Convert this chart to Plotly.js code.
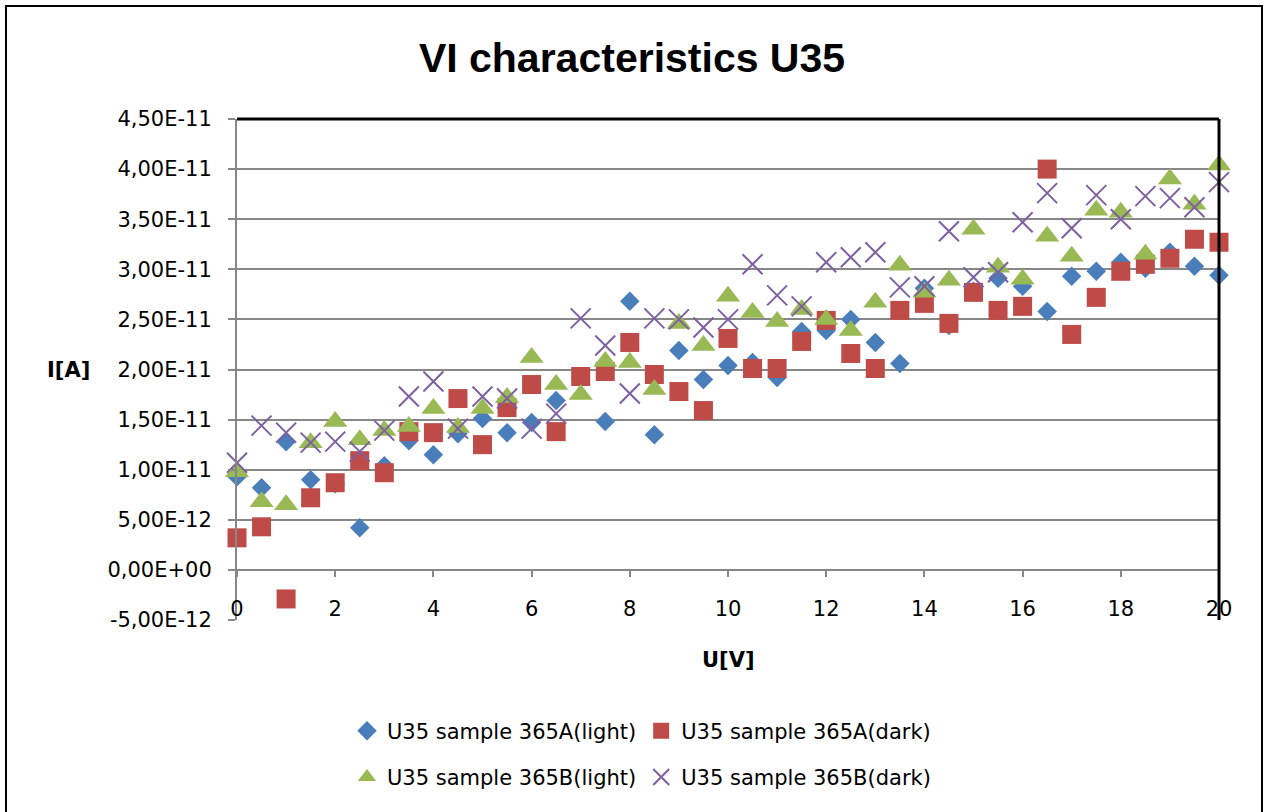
<!DOCTYPE html>
<html>
<head>
<meta charset="utf-8">
<script src="https://cdn.plot.ly/plotly-3.0.1.min.js"></script>
<style>
  html, body { margin: 0; padding: 0; background: #fff; overflow: hidden; }
  #frame { position: absolute; left: 5px; top: 5px; width: 1258px; height: 830px; border: 2px solid #000; box-sizing: border-box; pointer-events: none; z-index: 10; }
  #chart { position: absolute; left: 0; top: 0; width: 1264px; height: 812px; }
</style>
</head>
<body>
<div id="chart"></div>
<div id="frame"></div>
<script>
// Voltage U[V]
const voltage = [0, 0.5, 1, 1.5, 2, 2.5, 3, 3.5, 4, 4.5, 5, 5.5, 6, 6.5, 7, 7.5, 8, 8.5, 9, 9.5, 10,
                 10.5, 11, 11.5, 12, 12.5, 13, 13.5, 14, 14.5, 15, 15.5, 16, 16.5, 17, 17.5, 18, 18.5, 19, 19.5, 20];
// Currents in units of 1E-12 A
const SCALE = 1e-12;
const sampleALight = [9.3, 8.2, 12.8, 9.0, 8.6, 4.2, 10.4, 12.9, 11.5, 13.6, 15.1, 13.7, 14.7, 16.9, 19.2, 14.8, 26.8, 13.5, 21.9, 19.0, 20.4,
                      20.7, 19.2, 23.8, 23.9, 25.0, 22.7, 20.6, 28.1, 24.4, 27.8, 29.1, 28.3, 25.8, 29.3, 29.8, 30.7, 30.1, 31.7, 30.3, 29.4];
const sampleADark  = [3.2, 4.3, -2.9, 7.2, 8.7, 10.9, 9.7, 13.8, 13.7, 17.1, 12.5, 16.2, 18.5, 13.8, 19.3, 19.8, 22.7, 19.5, 17.8, 15.9, 23.1,
                      20.1, 20.1, 22.8, 24.9, 21.6, 20.1, 25.9, 26.6, 24.6, 27.7, 25.9, 26.3, 40.0, 23.5, 27.2, 29.8, 30.5, 31.1, 33.0, 32.7];
const sampleBLight = [9.8, 6.8, 6.5, 12.7, 14.8, 13.0, 13.9, 14.3, 16.1, 14.2, 16.1, 17.2, 21.2, 18.5, 17.5, 20.8, 20.7, 18.0, 24.6, 22.4, 27.3,
                      25.7, 24.8, 26.0, 25.0, 23.9, 26.7, 30.4, 27.7, 28.9, 34.0, 30.2, 29.0, 33.3, 31.3, 35.9, 35.7, 31.5, 39.0, 36.5, 40.4];
const sampleBDark  = [10.7, 14.4, 13.7, 12.7, 12.8, 11.8, 13.9, 17.3, 18.8, 14.1, 17.3, 17.1, 14.1, 15.6, 25.1, 22.4, 17.6, 25.1, 25.0, 24.2, 25.0,
                      30.5, 27.4, 26.3, 30.7, 31.2, 31.7, 28.2, 28.3, 33.8, 29.2, 29.7, 34.7, 37.6, 34.1, 37.4, 35.0, 37.3, 37.1, 36.2, 38.7];

const seriesNames = ["U35 sample 365A(light)", "U35 sample 365A(dark)", "U35 sample 365B(light)", "U35 sample 365B(dark)"];
const yTickVals = [-5e-12, 0, 5e-12, 1e-11, 1.5e-11, 2e-11, 2.5e-11, 3e-11, 3.5e-11, 4e-11, 4.5e-11];
const yTickText = ["-5,00E-12", "0,00E+00", "5,00E-12", "1,00E-11", "1,50E-11", "2,00E-11", "2,50E-11", "3,00E-11", "3,50E-11", "4,00E-11", "4,50E-11"];
const yGridVals = [5e-12, 1e-11, 1.5e-11, 2e-11, 2.5e-11, 3e-11, 3.5e-11, 4e-11];
const xTickVals = [0, 2, 4, 6, 8, 10, 12, 14, 16, 18, 20];

const FONT = "DejaVu Sans, Liberation Sans, sans-serif";
const toAmp = arr => arr.map(v => v * SCALE);

const traces = [
  { x: voltage, y: toAmp(sampleALight), name: seriesNames[0], type: "scatter", mode: "markers", cliponaxis: false,
    marker: { symbol: "diamond", size: 15, color: "#4a7ebb" }, legend: "legend" },
  { x: voltage, y: toAmp(sampleADark), name: seriesNames[1], type: "scatter", mode: "markers", cliponaxis: false,
    marker: { symbol: "square", size: 19, color: "#be4b48" }, legend: "legend" },
  { x: voltage, y: toAmp(sampleBLight), name: seriesNames[2], type: "scatter", mode: "markers", cliponaxis: false,
    marker: { symbol: "triangle-up", size: 21, color: "#98b954" }, legend: "legend2" },
  { x: voltage, y: toAmp(sampleBDark), name: seriesNames[3], type: "scatter", mode: "markers", cliponaxis: false,
    marker: { symbol: "x-thin-open", size: 20, color: "#7d60a0", line: { color: "#7d60a0", width: 2 } }, legend: "legend2" }
];

const gray = "#878787";
const RANGE_Y = [-5e-12, 4.5e-11];
const layout = {
  width: 1264, height: 812,
  margin: { l: 237, r: 45, t: 119, b: 192 },
  paper_bgcolor: "#ffffff", plot_bgcolor: "#ffffff",
  font: { family: FONT, size: 21, color: "#000" },
  title: { text: "<b>VI characteristics U35</b>", font: { family: "Liberation Sans, Arial, sans-serif", size: 41, color: "#000" },
           x: 0.5, xref: "container", y: 1 - 58 / 812, yref: "container", yanchor: "middle" },
  showlegend: true,
  legend: { orientation: "h", x: 0.112, xanchor: "left", y: -0.222, yanchor: "middle",
            font: { family: FONT, size: 21, color: "#000" }, bgcolor: "rgba(0,0,0,0)", itemclick: false },
  legend2: { orientation: "h", x: 0.112, xanchor: "left", y: -0.314, yanchor: "middle",
            font: { family: FONT, size: 21, color: "#000" }, bgcolor: "rgba(0,0,0,0)", itemclick: false },
  xaxis: {
    range: [0, 20], showgrid: false, zeroline: false, showline: false,
    anchor: "free", position: 26 / 501,
    tickvals: xTickVals, ticks: "", ticklabelstandoff: 0,
    tickfont: { family: FONT, size: 21, color: "#000" }
  },
  xaxis2: {
    overlaying: "x", matches: "x", anchor: "free", position: 50 / 501, side: "bottom",
    range: [0, 20], showgrid: false, zeroline: false, showline: true, linecolor: gray, linewidth: 2,
    tickvals: xTickVals, ticks: "outside", ticklen: 6, tickwidth: 2, tickcolor: gray, showticklabels: false
  },
  yaxis: {
    range: RANGE_Y, tickvals: yTickVals, ticktext: yTickText,
    showgrid: false, zeroline: false,
    showline: true, linecolor: gray, linewidth: 2,
    ticks: "outside", ticklen: 7, tickwidth: 2, tickcolor: gray, ticklabelstandoff: 12,
    tickfont: { family: FONT, size: 21, color: "#000" }
  },
  yaxis2: {
    overlaying: "y", matches: "y", range: RANGE_Y, tickvals: yGridVals,
    showgrid: true, gridcolor: gray, gridwidth: 2, zeroline: false, showline: false,
    ticks: "", showticklabels: false, side: "left"
  },
  shapes: [
    { type: "line", xref: "paper", yref: "paper", x0: 0, x1: 1, y0: 1, y1: 1, line: { color: "#000", width: 3 } },
    { type: "line", xref: "paper", yref: "paper", x0: 1, x1: 1, y0: 0, y1: 1, line: { color: "#000", width: 3 } }
  ],
  annotations: [
    { text: "<b>I[A]</b>", xref: "paper", yref: "paper", x: (68 - 237) / 982, y: (620 - 370) / 501,
      xanchor: "center", yanchor: "middle",
      showarrow: false, font: { family: FONT, size: 21, color: "#000" } },
    { text: "<b>U[V]</b>", xref: "paper", yref: "paper", x: (728 - 237) / 982, y: (620 - 660) / 501,
      xanchor: "center", yanchor: "middle",
      showarrow: false, font: { family: FONT, size: 21, color: "#000" } }
  ]
};

// helper trace so the overlay axes (x2 tick marks, y2 grid) render
traces.unshift({ x: [0, 20], y: [null, null], xaxis: "x2", yaxis: "y2", type: "scatter", mode: "markers",
                 showlegend: false, hoverinfo: "skip" });

Plotly.newPlot("chart", traces, layout, { staticPlot: true, displayModeBar: false });
</script>
</body>
</html>
